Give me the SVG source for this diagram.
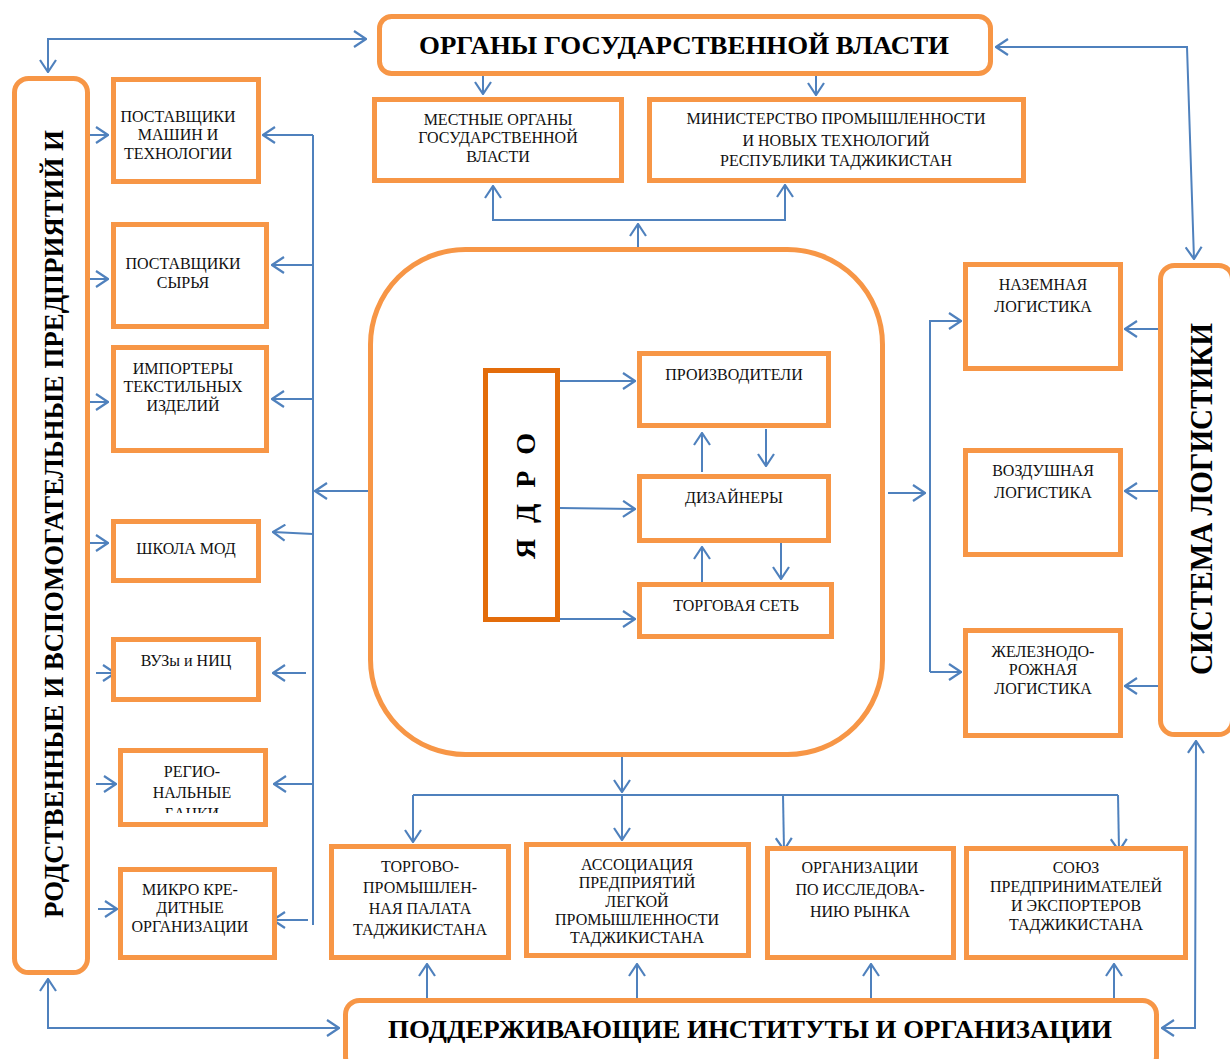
<svg xmlns="http://www.w3.org/2000/svg" width="1230" height="1059" viewBox="0 0 1230 1059">
<defs>
<marker id="ah" viewBox="0 0 14 18" refX="13" refY="9" markerWidth="14" markerHeight="18" markerUnits="userSpaceOnUse" orient="auto-start-reverse">
<path d="M1,1 L13,9 L1,17" fill="none" stroke="#4F81BD" stroke-width="2.2"/>
</marker>
<clipPath id="clipBank"><rect x="123" y="753" width="140" height="60"/></clipPath>
</defs>
<style>
.b{fill:#fff;stroke:#F79646;stroke-width:5}
.k{fill:#fff;stroke:#E36C0A;stroke-width:5}
.t{font-family:"Liberation Serif","Times New Roman",serif;font-size:16px;fill:#111;text-anchor:middle}
.h{font-family:"Liberation Serif","Times New Roman",serif;font-weight:bold;fill:#000;text-anchor:middle}
.c{fill:none;stroke:#4F81BD;stroke-width:2}
.a{fill:none;stroke:#4F81BD;stroke-width:2;marker-end:url(#ah)}
.d{fill:none;stroke:#4F81BD;stroke-width:2;marker-end:url(#ah);marker-start:url(#ah)}
</style>
<rect width="1230" height="1059" fill="#fff"/>

<g id="n-core"><rect class="b" x="370.5" y="249.5" width="512" height="505" rx="95"/></g>

<g id="connectors">
<path class="d" d="M366,39 L48,39 L48,72"/>
<path class="d" d="M996,47 L1187,47 L1194,259"/>
<path class="a" d="M483,76 L483,94"/>
<path class="a" d="M816,76 L816,95"/>
<path class="d" d="M493,186 L493,220 L785,220 L785,185"/>
<path class="a" d="M638,247 L638,224"/>
<path class="c" d="M313,135 L313,925"/>
<path class="a" d="M313,135 L263,135"/>
<path class="a" d="M313,265 L272,265"/>
<path class="a" d="M313,399 L272,399"/>
<path class="a" d="M368,491 L315,491"/>
<path class="a" d="M313,534 L273,532"/>
<path class="a" d="M306,673 L273,673"/>
<path class="a" d="M313,784 L274,784"/>
<path class="a" d="M308,920 L273,920"/>
<path class="a" d="M90,135 L108,135"/>
<path class="a" d="M90,279 L108,279"/>
<path class="a" d="M90,402 L108,402"/>
<path class="a" d="M90,543 L108,543"/>
<path class="a" d="M96,673 L115,673"/>
<path class="a" d="M96,784 L116,784"/>
<path class="a" d="M98,909 L117,909"/>
<path class="a" d="M560,381 L635,381"/>
<path class="a" d="M560,508 L635,509"/>
<path class="a" d="M560,619 L635,619"/>
<path class="a" d="M702,472 L702,433"/>
<path class="a" d="M766,429 L766,466"/>
<path class="a" d="M702,583 L702,547"/>
<path class="a" d="M781,542 L781,579"/>
<path class="a" d="M888,493 L925,493"/>
<path class="c" d="M930,320 L930,672"/>
<path class="a" d="M930,321 L961,321"/>
<path class="a" d="M930,672 L961,672"/>
<path class="a" d="M1158,329 L1125,329"/>
<path class="a" d="M1158,491 L1125,491"/>
<path class="a" d="M1158,686 L1125,686"/>
<path class="a" d="M622,757 L622,792"/>
<path class="c" d="M413,795 L1118,795"/>
<path class="a" d="M413,795 L413,842"/>
<path class="a" d="M622,795 L622,840"/>
<path class="a" d="M783,795 L784,850"/>
<path class="a" d="M1118,795 L1119,851"/>
<path class="a" d="M427,998 L427,964"/>
<path class="a" d="M637,998 L637,964"/>
<path class="a" d="M871,998 L871,964"/>
<path class="a" d="M1114,998 L1114,964"/>
<path class="d" d="M48,979 L48,1028 L339,1028"/>
<path class="d" d="M1162,1028 L1195,1028 L1196,741"/>
</g>

<g id="n-gov"><rect class="b" x="379.5" y="16.5" width="611" height="57" rx="12"/>
<text class="h" x="684" y="54" font-size="26" textLength="530" lengthAdjust="spacingAndGlyphs">ОРГАНЫ ГОСУДАРСТВЕННОЙ ВЛАСТИ</text></g>

<g id="n-local"><rect class="b" x="374.5" y="99.5" width="247" height="81"/>
<text class="t" x="498" y="125">МЕСТНЫЕ ОРГАНЫ</text><text class="t" x="498" y="143">ГОСУДАРСТВЕННОЙ</text><text class="t" x="498" y="162">ВЛАСТИ</text></g>

<g id="n-ministry"><rect class="b" x="649.5" y="99.5" width="374" height="81"/>
<text class="t" x="836" y="124">МИНИСТЕРСТВО ПРОМЫШЛЕННОСТИ</text><text class="t" x="836" y="146">И НОВЫХ ТЕХНОЛОГИЙ</text><text class="t" x="836" y="166">РЕСПУБЛИКИ ТАДЖИКИСТАН</text></g>

<g id="n-related"><rect class="b" x="14.5" y="78.5" width="73" height="894" rx="14"/>
<text class="h" transform="translate(63,524) rotate(-90)" x="0" y="0" font-size="28" textLength="788" lengthAdjust="spacingAndGlyphs">РОДСТВЕННЫЕ И ВСПОМОГАТЕЛЬНЫЕ ПРЕДПРИЯТИЙ И</text></g>

<g id="n-l1"><rect class="b" x="113.5" y="79.5" width="145" height="102"/>
<text class="t" x="178" y="122">ПОСТАВЩИКИ</text><text class="t" x="178" y="140">МАШИН И</text><text class="t" x="178" y="159">ТЕХНОЛОГИИ</text></g>
<g id="n-l2"><rect class="b" x="113.5" y="224.5" width="153" height="102"/>
<text class="t" x="183" y="269">ПОСТАВЩИКИ</text><text class="t" x="183" y="288">СЫРЬЯ</text></g>
<g id="n-l3"><rect class="b" x="113.5" y="347.5" width="153" height="103"/>
<text class="t" x="183" y="374">ИМПОРТЕРЫ</text><text class="t" x="183" y="392">ТЕКСТИЛЬНЫХ</text><text class="t" x="183" y="411">ИЗДЕЛИЙ</text></g>
<g id="n-l4"><rect class="b" x="113.5" y="521.5" width="145" height="59"/>
<text class="t" x="186" y="554">ШКОЛА МОД</text></g>
<g id="n-l5"><rect class="b" x="113.5" y="639.5" width="145" height="60"/>
<text class="t" x="186" y="666">ВУЗы и НИЦ</text></g>
<g id="n-l6"><rect class="b" x="120.5" y="750.5" width="145" height="74"/>
<g clip-path="url(#clipBank)"><text class="t" x="192" y="777">РЕГИО-</text><text class="t" x="192" y="798">НАЛЬНЫЕ</text><text class="t" x="192" y="819">БАНКИ</text></g></g>
<g id="n-l7"><rect class="b" x="120.5" y="869.5" width="154" height="88"/>
<text class="t" x="190" y="895">МИКРО КРЕ-</text><text class="t" x="190" y="913">ДИТНЫЕ</text><text class="t" x="190" y="932">ОРГАНИЗАЦИИ</text></g>

<g id="n-yadro"><rect class="k" x="485.5" y="370.5" width="72" height="249"/>
<text class="h" transform="translate(535,496) rotate(-90)" x="0" y="0" font-size="28" textLength="126" lengthAdjust="spacing">Я Д Р О</text></g>
<g id="n-prod"><rect class="b" x="639.5" y="353.5" width="189" height="72"/>
<text class="t" x="734" y="380">ПРОИЗВОДИТЕЛИ</text></g>
<g id="n-design"><rect class="b" x="639.5" y="476.5" width="189" height="64"/>
<text class="t" x="734" y="503">ДИЗАЙНЕРЫ</text></g>
<g id="n-trade"><rect class="b" x="639.5" y="584.5" width="192" height="52"/>
<text class="t" x="736" y="611">ТОРГОВАЯ СЕТЬ</text></g>

<g id="n-log1"><rect class="b" x="965.5" y="264.5" width="155" height="104"/>
<text class="t" x="1043" y="290">НАЗЕМНАЯ</text><text class="t" x="1043" y="312">ЛОГИСТИКА</text></g>
<g id="n-log2"><rect class="b" x="965.5" y="450.5" width="155" height="104"/>
<text class="t" x="1043" y="476">ВОЗДУШНАЯ</text><text class="t" x="1043" y="498">ЛОГИСТИКА</text></g>
<g id="n-log3"><rect class="b" x="965.5" y="630.5" width="155" height="105"/>
<text class="t" x="1043" y="657">ЖЕЛЕЗНОДО-</text><text class="t" x="1043" y="675">РОЖНАЯ</text><text class="t" x="1043" y="694">ЛОГИСТИКА</text></g>
<g id="n-logsys"><rect class="b" x="1160.5" y="265.5" width="72" height="469" rx="14"/>
<text class="h" transform="translate(1212,499) rotate(-90)" x="0" y="0" font-size="32" textLength="352" lengthAdjust="spacingAndGlyphs">СИСТЕМА ЛОГИСТИКИ</text></g>

<g id="n-b1"><rect class="b" x="331.5" y="846.5" width="177" height="111"/>
<text class="t" x="420" y="872">ТОРГОВО-</text><text class="t" x="420" y="893">ПРОМЫШЛЕН-</text><text class="t" x="420" y="914">НАЯ ПАЛАТА</text><text class="t" x="420" y="935">ТАДЖИКИСТАНА</text></g>
<g id="n-b2"><rect class="b" x="526.5" y="844.5" width="222" height="111"/>
<text class="t" x="637" y="870">АССОЦИАЦИЯ</text><text class="t" x="637" y="888">ПРЕДПРИЯТИЙ</text><text class="t" x="637" y="907">ЛЕГКОЙ</text><text class="t" x="637" y="925">ПРОМЫШЛЕННОСТИ</text><text class="t" x="637" y="943">ТАДЖИКИСТАНА</text></g>
<g id="n-b3"><rect class="b" x="767.5" y="848.5" width="186" height="109"/>
<text class="t" x="860" y="873">ОРГАНИЗАЦИИ</text><text class="t" x="860" y="895">ПО ИССЛЕДОВА-</text><text class="t" x="860" y="917">НИЮ РЫНКА</text></g>
<g id="n-b4"><rect class="b" x="966.5" y="848.5" width="219" height="109"/>
<text class="t" x="1076" y="873">СОЮЗ</text><text class="t" x="1076" y="892">ПРЕДПРИНИМАТЕЛЕЙ</text><text class="t" x="1076" y="911">И ЭКСПОРТЕРОВ</text><text class="t" x="1076" y="930">ТАДЖИКИСТАНА</text></g>

<g id="n-support"><rect class="b" x="345.5" y="1000.5" width="811" height="70" rx="14"/>
<text class="h" x="750" y="1038" font-size="26" textLength="724" lengthAdjust="spacingAndGlyphs">ПОДДЕРЖИВАЮЩИЕ ИНСТИТУТЫ И ОРГАНИЗАЦИИ</text></g>
</svg>
